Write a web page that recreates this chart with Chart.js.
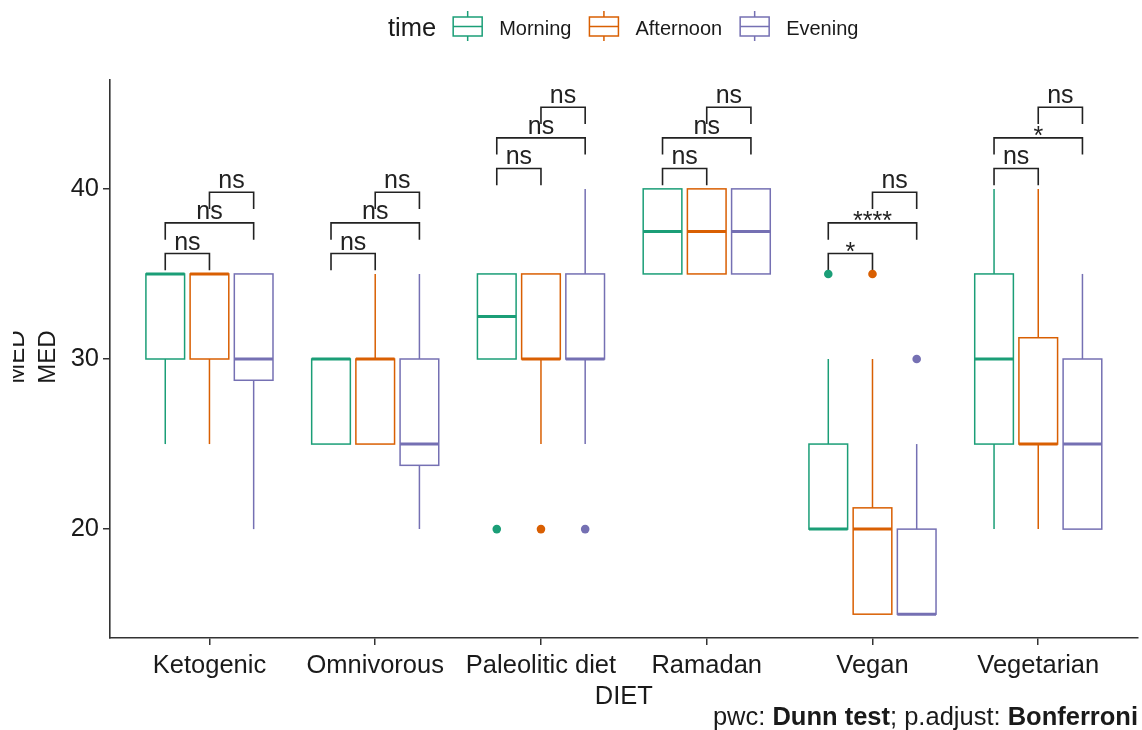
<!DOCTYPE html>
<html><head><meta charset="utf-8">
<script src="https://cdn.jsdelivr.net/npm/chart.js@4.4.1/dist/chart.umd.min.js"></script>
<style>html,body{margin:0;padding:0;background:#fff;overflow:hidden;}</style>
</head><body>
<canvas id="c" width="1142" height="730" style="display:block;width:1142px;height:730px"></canvas>
<script>
// ---- data ----
const categories = ["Ketogenic", "Omnivorous", "Paleolitic diet", "Ramadan", "Vegan", "Vegetarian"];
const seriesNames = ["Morning", "Afternoon", "Evening"];
// [min whisker, Q1, median, Q3, max whisker] per category
const morningBox   = [[25,30,35,35,35],[25,25,30,30,30],[30,30,32.5,35,35],[35,35,37.5,40,40],[20,20,20,25,30],[20,25,30,35,40]];
const afternoonBox = [[25,30,35,35,35],[25,25,30,30,35],[25,30,30,35,35],[35,35,37.5,40,40],[15,15,20,21.25,30],[20,25,25,31.25,40]];
const eveningBox   = [[20,28.75,30,35,35],[20,23.75,25,30,35],[25,30,30,35,40],[35,35,37.5,40,40],[15,15,15,20,25],[20,20,25,30,35]];
const morningOut   = [[],[],[20],[],[35],[]];
const afternoonOut = [[],[],[20],[],[35],[]];
const eveningOut   = [[],[],[20],[],[30],[]];
const yTicks = [20, 30, 40];
// pairwise comparisons (series index pairs), bracket heights and labels per category
const pairs = [[0,1],[0,2],[1,2]];
const bracketY = [[36.2,38,39.8],[36.2,38,39.8],[41.2,43,44.8],[41.2,43,44.8],[36.2,38,39.8],[41.2,43,44.8]];
const pLabels = [["ns","ns","ns"],["ns","ns","ns"],["ns","ns","ns"],["ns","ns","ns"],["*","****","ns"],["ns","*","ns"]];

// ---- styling ----
const COLORS = ["#1B9E77", "#D95F02", "#7570B3"];
const FONT = "'Liberation Sans', Arial, sans-serif";
const FS = 25.5;
const DODGE = 0.8 / 3, BOXW = 0.7 / 3;
const Y_MIN = 13.6, Y_MAX = 46.4;
const summaries = [morningBox, afternoonBox, eveningBox];
const outliers = [morningOut, afternoonOut, eveningOut];

const boxPlugin = {
  id: 'boxes',
  beforeDatasetsDraw(chart) {
    const {ctx, scales: {x, y}} = chart;
    ctx.save();
    summaries.forEach((arr, k) => {
      arr.forEach((s, i) => {
        const xc = i + (k - 1) * DODGE;
        const xl = x.getPixelForValue(xc - BOXW / 2), xr = x.getPixelForValue(xc + BOXW / 2), xm = x.getPixelForValue(xc);
        const [mn, q1, md, q3, mx] = s.map(v => y.getPixelForValue(v));
        ctx.strokeStyle = COLORS[k];
        ctx.lineWidth = 1.5;
        ctx.beginPath();
        if (mx < q3) { ctx.moveTo(xm, q3); ctx.lineTo(xm, mx); }
        if (mn > q1) { ctx.moveTo(xm, q1); ctx.lineTo(xm, mn); }
        ctx.stroke();
        ctx.strokeRect(xl, q3, xr - xl, q1 - q3);
        ctx.lineWidth = 3;
        ctx.beginPath(); ctx.moveTo(xl, md); ctx.lineTo(xr, md); ctx.stroke();
      });
    });
    // significance brackets
    const tip = 0.03 * (Y_MAX - Y_MIN);
    ctx.strokeStyle = '#222'; ctx.lineWidth = 1.6; ctx.fillStyle = '#222';
    ctx.font = '25px ' + FONT; ctx.textAlign = 'center'; ctx.textBaseline = 'alphabetic';
    categories.forEach((c, i) => {
      pairs.forEach((p, j) => {
        const x1 = x.getPixelForValue(i + (p[0] - 1) * DODGE), x2 = x.getPixelForValue(i + (p[1] - 1) * DODGE);
        const yl = y.getPixelForValue(bracketY[i][j]), yt = y.getPixelForValue(bracketY[i][j] - tip);
        ctx.beginPath(); ctx.moveTo(x1, yt); ctx.lineTo(x1, yl); ctx.lineTo(x2, yl); ctx.lineTo(x2, yt); ctx.stroke();
        const lab = pLabels[i][j];
        const off = lab.indexOf('*') >= 0 ? 6 : -4;
        ctx.fillText(lab, (x1 + x2) / 2, yl + off);
      });
    });
    ctx.restore();
  },
  afterDraw(chart) {
    const {ctx} = chart;
    ctx.save();
    // y axis title (doubled, outer one clipped)
    ctx.fillStyle = '#1a1a1a'; ctx.font = '24px ' + FONT; ctx.textAlign = 'center'; ctx.textBaseline = 'alphabetic';
    ctx.save(); ctx.translate(55, 357); ctx.rotate(-Math.PI / 2); ctx.fillText('MED', 0, 0); ctx.restore();
    ctx.save(); ctx.beginPath(); ctx.rect(13, 0, 40, 730); ctx.clip();
    ctx.translate(24, 357); ctx.rotate(-Math.PI / 2); ctx.fillText('MED', 0, 0); ctx.restore();
    // legend
    let lx = 388; const ly = 29;
    ctx.textAlign = 'left'; ctx.textBaseline = 'middle';
    ctx.font = '25.5px ' + FONT; ctx.fillText('time', lx, ly);
    lx += ctx.measureText('time').width + 17;
    ctx.font = '20px ' + FONT;
    seriesNames.forEach((n, k) => {
      ctx.strokeStyle = COLORS[k]; ctx.lineWidth = 1.5;
      const bx = lx, bw = 29;
      ctx.beginPath();
      ctx.moveTo(bx + bw / 2, 11); ctx.lineTo(bx + bw / 2, 17);
      ctx.moveTo(bx + bw / 2, 36); ctx.lineTo(bx + bw / 2, 41);
      ctx.moveTo(bx, 26.5); ctx.lineTo(bx + bw, 26.5);
      ctx.stroke();
      ctx.strokeRect(bx, 17, bw, 19);
      ctx.fillStyle = '#1a1a1a';
      ctx.fillText(n, bx + 46, ly);
      lx = bx + 46 + ctx.measureText(n).width + 18;
    });
    // caption
    const parts = [["pwc: ", false], ["Dunn test", true], ["; p.adjust: ", false], ["Bonferroni", true]];
    let cx = 1138; const cy = 725;
    ctx.textAlign = 'right'; ctx.textBaseline = 'alphabetic';
    for (let i = parts.length - 1; i >= 0; i--) {
      ctx.font = (parts[i][1] ? 'bold ' : '') + FS + 'px ' + FONT;
      ctx.fillText(parts[i][0], cx, cy);
      cx -= ctx.measureText(parts[i][0]).width;
    }
    ctx.restore();
  }
};

const datasets = seriesNames.map((n, k) => ({
  label: n,
  data: outliers[k].flatMap((arr, i) => arr.map(v => ({x: i + (k - 1) * DODGE, y: v}))),
  backgroundColor: COLORS[k], borderWidth: 0, pointRadius: 4.3, pointHoverRadius: 4.3
}));

new Chart(document.getElementById('c'), {
  type: 'scatter',
  data: {datasets},
  options: {
    responsive: false, animation: false, events: [],
    layout: {padding: {top: 80, right: 2, left: 0, bottom: 0}},
    plugins: {legend: {display: false}, tooltip: {enabled: false}},
    scales: {
      x: {
        type: 'linear', min: -0.6, max: 5.6,
        afterBuildTicks: s => { s.ticks = categories.map((c, i) => ({value: i})); },
        afterFit: s => { s.height = 92; },
        ticks: {callback: v => categories[v], color: '#1a1a1a', font: {family: FONT, size: FS}, padding: 6, maxRotation: 0, autoSkip: false},
        grid: {display: true, drawOnChartArea: false, drawTicks: true, tickLength: 7, color: '#333', lineWidth: 1.5},
        border: {display: true, color: '#333', width: 1.6},
        title: {display: true, text: 'DIET', color: '#1a1a1a', font: {family: FONT, size: FS}, padding: {top: 0, bottom: 18}}
      },
      y: {
        min: Y_MIN, max: Y_MAX,
        afterBuildTicks: s => { s.ticks = yTicks.map(v => ({value: v})); },
        afterFit: s => { s.width = 110; },
        ticks: {color: '#1a1a1a', font: {family: FONT, size: FS}, padding: 4},
        grid: {display: true, drawOnChartArea: false, drawTicks: true, tickLength: 7, color: '#333', lineWidth: 1.5},
        border: {display: true, color: '#333', width: 1.6}
      }
    }
  },
  plugins: [boxPlugin]
});
</script>
</body></html>
